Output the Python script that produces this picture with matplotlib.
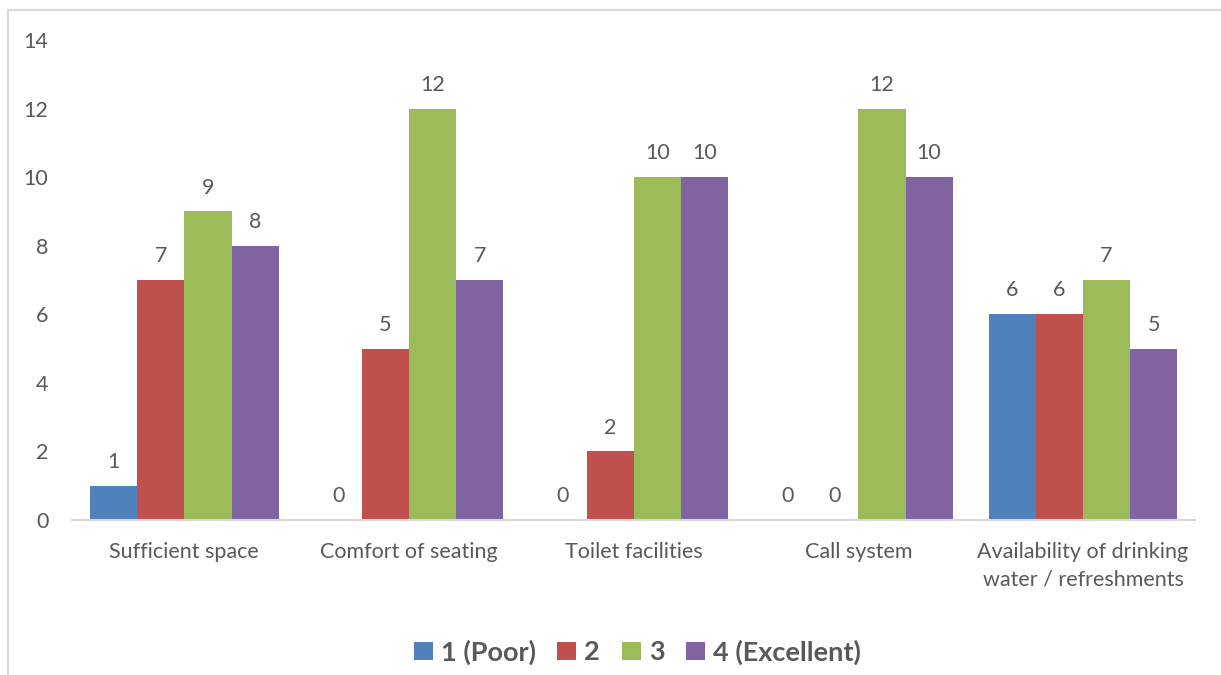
import numpy as np
import matplotlib.pyplot as plt
from matplotlib.patches import Rectangle

plt.rcParams['font.family'] = ['Lato', 'DejaVu Sans']

# data
categories = ['Sufficient space', 'Comfort of seating', 'Toilet facilities', 'Call system',
              'Availability of drinking\nwater / refreshments']
series_names = ['1 (Poor)', '2', '3', '4 (Excellent)']
poor = [1, 0, 0, 0, 6]
two = [7, 5, 2, 0, 6]
three = [9, 12, 10, 12, 7]
excellent = [8, 7, 10, 10, 5]
colors = ['#4F81BD', '#C0504D', '#9BBB59', '#8064A2']

text_col = '#595959'
fig = plt.figure(figsize=(12.21, 6.75), dpi=100)
ax = fig.add_axes([0.059, 0.2296, 0.92, 0.7111])

# chart border (light gray, like excel chart area)
fig.patches.append(Rectangle((8 / 1221, -0.1), 1.2, 1 - 10.5 / 675 + 0.1, transform=fig.transFigure,
                             fill=False, edgecolor='#D9D9D9', linewidth=1.5))

x = np.arange(len(categories))
w = 0.21
for i, (vals, name) in enumerate(zip([poor, two, three, excellent], series_names)):
    bars = ax.bar(x + (i - 1.5) * w, vals, w, color=colors[i], label=name)
    ax.bar_label(bars, padding=10, fontsize=15.5, color=text_col)

ax.set_xlim(-0.5, 4.5)
ax.set_ylim(0, 14)
ax.set_yticks(range(0, 15, 2))
ax.set_xticks(x)
ax.set_xticklabels(categories, fontsize=15.5, color=text_col, linespacing=1.45)
ax.tick_params(axis='y', length=0, labelsize=15.5, labelcolor=text_col, pad=17)
ax.tick_params(axis='x', length=0, pad=16)
for s in ['top', 'right', 'left']:
    ax.spines[s].set_visible(False)
ax.spines['bottom'].set_color('#D9D9D9')
ax.spines['bottom'].set_linewidth(1.5)

leg = fig.legend(loc='center', bbox_to_anchor=(0.522, 0.034), ncol=4, frameon=False,
                 prop={'size': 19.5, 'weight': 'bold'}, handlelength=0.7, handleheight=0.7,
                 handletextpad=0.3, columnspacing=0.8)
for t in leg.get_texts():
    t.set_color(text_col)

plt.savefig('out.png', dpi=100)
